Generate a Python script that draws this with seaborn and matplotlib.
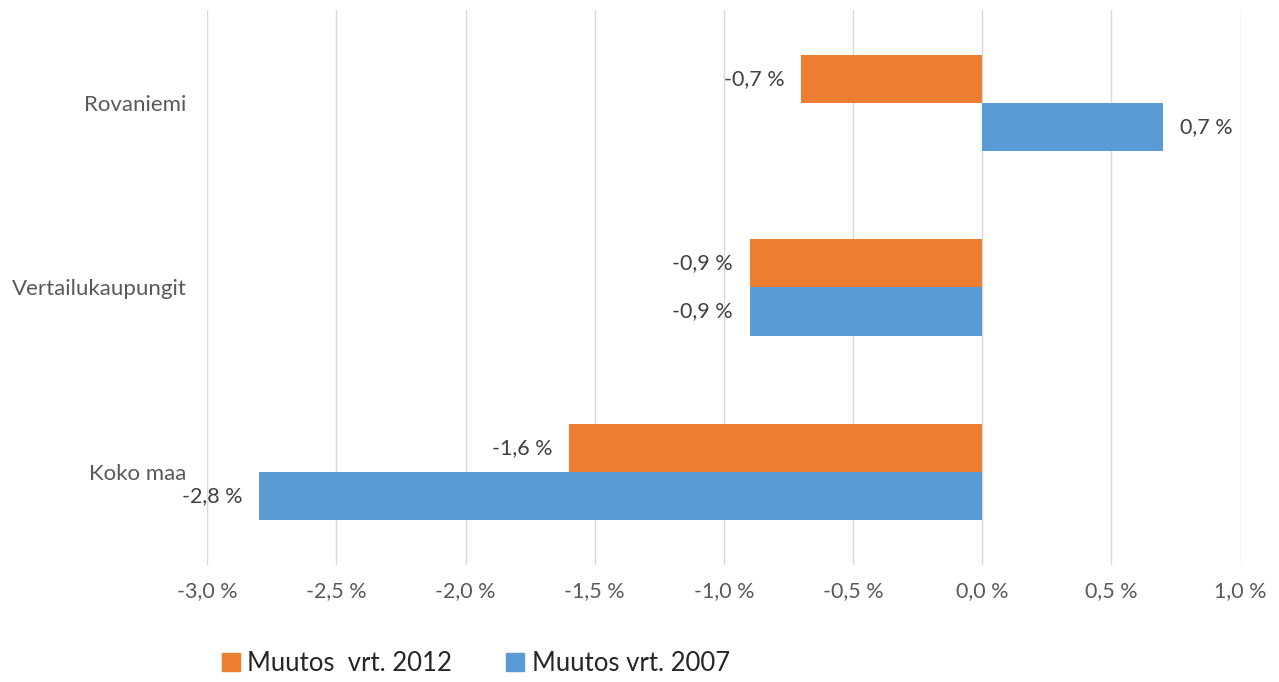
import seaborn as sns
import pandas as pd
import matplotlib.pyplot as plt

# data
alueet = ["Rovaniemi", "Vertailukaupungit", "Koko maa"]
muutos_2012 = [-0.7, -0.9, -1.6]
muutos_2007 = [0.7, -0.9, -2.8]
sarjat = ["Muutos  vrt. 2012", "Muutos vrt. 2007"]
x_ticks = [-3.0, -2.5, -2.0, -1.5, -1.0, -0.5, 0.0, 0.5, 1.0]
colors = ["#ED7D31", "#5B9BD5"]

data = pd.DataFrame({
    "alue": alueet * 2,
    "sarja": [sarjat[0]] * 3 + [sarjat[1]] * 3,
    "arvo": muutos_2012 + muutos_2007,
})

sns.set_style("white")
plt.rcParams['font.family'] = ['Lato', 'DejaVu Sans']

fig = plt.figure(figsize=(12.79, 6.82), dpi=100)
ax = fig.add_axes([0.162, 0.172, 0.808, 0.813])

sns.barplot(data=data, x="arvo", y="alue", hue="sarja", hue_order=sarjat,
            order=alueet, palette=colors, width=0.52, orient="h",
            saturation=1, linewidth=0, ax=ax, legend=False)

def fmt(v):
    return f"{v:.1f} %".replace(".", ",")

for cont in ax.containers:
    ax.bar_label(cont, labels=[fmt(b.get_width()) for b in cont],
                 padding=12, fontsize=15.5, color="#404040")

ax.set_xlim(-3.0, 1.0)
ax.set_ylim(2.5, -0.5)
ax.set_xticks(x_ticks)
ax.set_xticklabels([fmt(t) for t in x_ticks], fontsize=15.5, color="#595959")
ax.tick_params(axis="y", labelsize=16, labelcolor="#595959", length=0, pad=15)
ax.tick_params(axis="x", length=0, pad=12)
ax.xaxis.grid(True, color="#D9D9D9", linewidth=1)
ax.set_axisbelow(True)
ax.set_xlabel("")
ax.set_ylabel("")
for s in ax.spines.values():
    s.set_visible(False)

handles = [plt.Rectangle((0, 0), 1, 1, color=c) for c in colors]
fig.legend(handles, sarjat, loc="center", bbox_to_anchor=(0.372, 0.027),
           ncol=2, frameon=False, fontsize=18.5, handlelength=0.7,
           handleheight=0.7, handletextpad=0.3, columnspacing=2.1)

plt.savefig("out.png", dpi=100)
